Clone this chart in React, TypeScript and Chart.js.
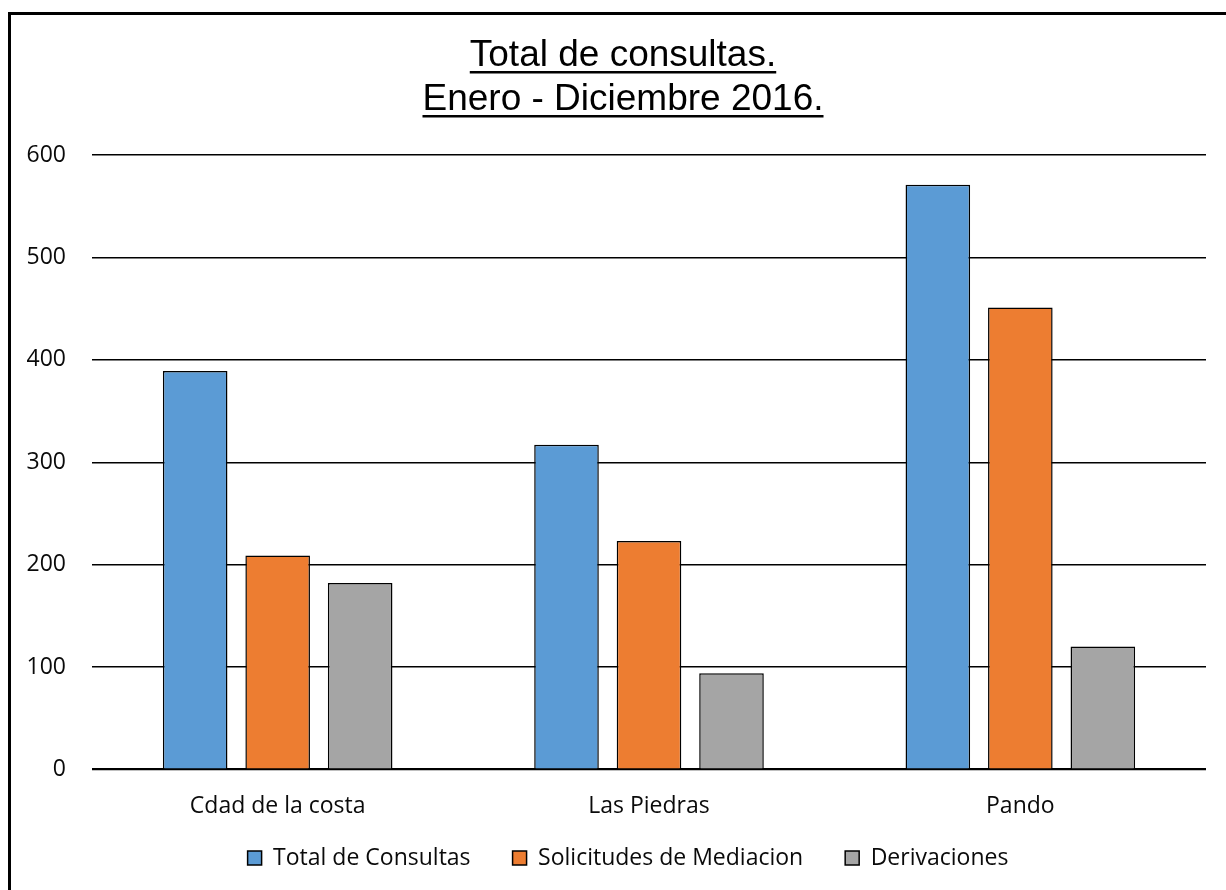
import React, { useEffect, useRef } from "react";
import { Chart, registerables } from "chart.js";

Chart.register(...registerables);

const titleLines = ["Total de consultas.", "Enero - Diciembre 2016."];
const categories = ["Cdad de la costa", "Las Piedras", "Pando"];
const totalConsultas = [389, 317, 571];
const solicitudesMediacion = [209, 223, 451];
const derivaciones = [182, 94, 120];
const seriesNames = ["Total de Consultas", "Solicitudes de Mediacion", "Derivaciones"];
const seriesColors = ["#5B9BD5", "#ED7D31", "#A5A5A5"];

const LABEL_FONT = "'Open Sans', 'Noto Sans', sans-serif";

const underlinedTitle = {
  id: "underlinedTitle",
  afterDraw(chart: any) {
    const ctx = chart.ctx;
    ctx.save();
    ctx.font = "37px 'Liberation Sans', Arial, sans-serif";
    ctx.fillStyle = "#000";
    ctx.textAlign = "center";
    ctx.textBaseline = "alphabetic";
    const cx = 623;
    const baselines = [66, 110];
    titleLines.forEach((t, i) => {
      ctx.fillText(t, cx, baselines[i]);
      const w = ctx.measureText(t).width;
      ctx.fillRect(cx - w / 2, baselines[i] + 5, w, 2.5);
    });
    ctx.restore();
  },
};

// nudge the legend box so it sits where the reference places it
const legendOffset = {
  id: "legendOffset",
  afterLayout(chart: any) {
    const l = chart.legend;
    if (!l) return;
    l.left += 25;
    l.right += 25;
    l.top -= 25;
    l.bottom -= 25;
  },
};

export default function App() {
  const ref = useRef<HTMLCanvasElement | null>(null);

  useEffect(() => {
    if (!ref.current) return;
    const data = [totalConsultas, solicitudesMediacion, derivaciones];
    const chart = new Chart(ref.current, {
      type: "bar",
      data: {
        labels: categories,
        datasets: seriesNames.map((name, i) => ({
          label: name,
          data: data[i],
          backgroundColor: seriesColors[i],
          borderColor: "#000",
          borderWidth: 1.5,
          barPercentage: 0.783,
          categoryPercentage: 0.6665,
        })),
      },
      options: {
        responsive: false,
        animation: false,
        layout: { padding: { top: 155, left: 0, right: 20, bottom: -14.5 } },
        plugins: {
          title: { display: false },
          tooltip: { enabled: false },
          legend: {
            position: "bottom",
            labels: {
              font: { family: LABEL_FONT, size: 23 },
              color: "#0a0a0a",
              boxWidth: 14,
              boxHeight: 14,
              padding: 42,
            },
          },
        },
        scales: {
          x: {
            grid: { display: false },
            border: { display: false },
            ticks: {
              font: { family: LABEL_FONT, size: 23 },
              color: "#0a0a0a",
              padding: 15,
            },
            afterFit(s: any) {
              s.height = 60;
            },
          },
          y: {
            min: 0,
            max: 600,
            border: { display: false },
            grid: {
              color: "#000",
              lineWidth: (c: any) => (c.tick && c.tick.value === 0 ? 2.2 : 1.5),
              drawTicks: false,
            },
            ticks: {
              stepSize: 100,
              font: { family: LABEL_FONT, size: 23 },
              color: "#0a0a0a",
              padding: 26,
            },
            afterFit(s: any) {
              s.width = 92;
            },
          },
        },
      },
      plugins: [underlinedTitle, legendOffset],
    });
    return () => chart.destroy();
  }, []);

  return (
    <div
      style={{
        position: "fixed",
        left: 0,
        top: 0,
        width: 1226,
        height: 890,
        overflow: "hidden",
        background: "#fff",
      }}
    >
      <div
        style={{
          position: "absolute",
          left: 8,
          top: 12,
          width: 1400,
          height: 1100,
          border: "3px solid #000",
        }}
      />
      <canvas
        ref={ref}
        width={1226}
        height={890}
        style={{ position: "absolute", left: 0, top: 0, width: 1226, height: 890 }}
      />
    </div>
  );
}
